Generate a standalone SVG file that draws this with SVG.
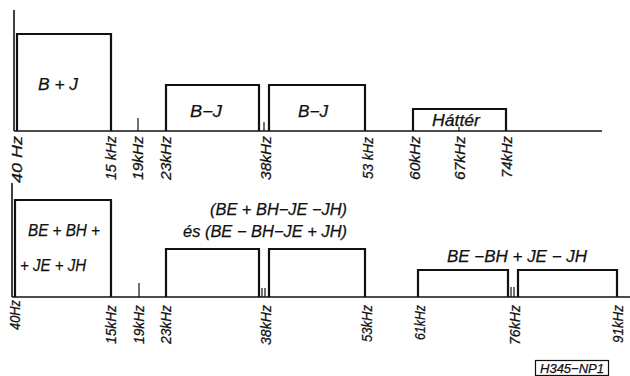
<svg xmlns="http://www.w3.org/2000/svg" width="630" height="376" viewBox="0 0 630 376">
<style>
.box{fill:none;stroke:#111;stroke-width:2.2}
.ax{stroke:#111;stroke-width:1.6;fill:none}
.tk{stroke:#111;stroke-width:1.2}
.t{font-family:"Liberation Sans",Arial,sans-serif;font-style:italic;font-size:16px;fill:#111;stroke:#111;stroke-width:0.25}
.f{font-family:"Liberation Sans",Arial,sans-serif;font-style:italic;font-size:15px;fill:#111;stroke:#111;stroke-width:0.25}
</style>
<rect width="630" height="376" fill="#fff"/>
<g id="connectors">
<line class="ax" x1="14" y1="10" x2="14" y2="131"/>
<line class="ax" x1="14" y1="131" x2="602" y2="131"/>
<line class="tk" x1="138" y1="118" x2="138" y2="131"/>
<line class="tk" x1="264" y1="122" x2="264" y2="131"/>
<line class="tk" x1="459" y1="127" x2="459" y2="131"/>
<line class="ax" x1="12" y1="183" x2="12" y2="297"/>
<line class="ax" x1="12" y1="297" x2="630" y2="297"/>
<line class="tk" x1="139" y1="283" x2="139" y2="297"/>
<line class="tk" x1="262" y1="288" x2="262" y2="297"/>
<line class="tk" x1="265" y1="288" x2="265" y2="297"/>
<line class="tk" x1="511" y1="287" x2="511" y2="297"/>
<line class="tk" x1="514" y1="287" x2="514" y2="297"/>
</g>
<g id="top-bj-sum"><path class="box" d="M17,131 V34 H111 V131"/><text class="t" x="38" y="90" textLength="40" lengthAdjust="spacingAndGlyphs">B + J</text></g>
<g id="top-bj-diff1"><path class="box" d="M166,131 V85 H259 V131"/><text class="t" x="190" y="117" textLength="32" lengthAdjust="spacingAndGlyphs">B−J</text></g>
<g id="top-bj-diff2"><path class="box" d="M269,131 V85 H365 V131"/><text class="t" x="298" y="117" textLength="30" lengthAdjust="spacingAndGlyphs">B−J</text></g>
<g id="top-hatter"><path class="box" d="M413,131 V109 H506 V131"/><text class="t" x="432" y="126" textLength="48" lengthAdjust="spacingAndGlyphs">Háttér</text></g>
<g id="top-labels" class="f" text-anchor="end">
<text transform="translate(22,136) rotate(-90)" textLength="47" lengthAdjust="spacingAndGlyphs">40 Hz</text>
<text transform="translate(116,136) rotate(-90)" textLength="44" lengthAdjust="spacingAndGlyphs">15 kHz</text>
<text transform="translate(143,136) rotate(-90)" textLength="44" lengthAdjust="spacingAndGlyphs">19kHz</text>
<text transform="translate(171,136) rotate(-90)" textLength="44" lengthAdjust="spacingAndGlyphs">23kHz</text>
<text transform="translate(271,136) rotate(-90)" textLength="44" lengthAdjust="spacingAndGlyphs">38kHz</text>
<text transform="translate(373,137) rotate(-90)" textLength="42" lengthAdjust="spacingAndGlyphs">53 kHz</text>
<text transform="translate(420,136) rotate(-90)" textLength="44" lengthAdjust="spacingAndGlyphs">60kHz</text>
<text transform="translate(465,136) rotate(-90)" textLength="44" lengthAdjust="spacingAndGlyphs">67kHz</text>
<text transform="translate(512,136) rotate(-90)" textLength="42" lengthAdjust="spacingAndGlyphs">74kHz</text>
</g>
<g id="bot-sum"><path class="box" d="M15,297 V200 H111 V297"/><text class="t" x="28" y="236" textLength="72" lengthAdjust="spacingAndGlyphs">BE + BH +</text><text class="t" x="20" y="271" textLength="66" lengthAdjust="spacingAndGlyphs">+ JE + JH</text></g>
<g id="bot-diff1"><path class="box" d="M166,297 V249 H259 V297"/></g>
<g id="bot-diff2"><path class="box" d="M269,297 V249 H365 V297"/></g>
<g id="bot-diff-label"><text class="t" x="210" y="215" textLength="137" lengthAdjust="spacingAndGlyphs">(BE + BH−JE −JH)</text><text class="t" x="183" y="237" textLength="164" lengthAdjust="spacingAndGlyphs">és  (BE − BH−JE + JH)</text></g>
<g id="bot-hi1"><path class="box" d="M418,297 V270 H508 V297"/></g>
<g id="bot-hi2"><path class="box" d="M518,297 V270 H617 V297"/></g>
<g id="bot-hi-label"><text class="t" x="447" y="262" textLength="140" lengthAdjust="spacingAndGlyphs">BE −BH + JE − JH</text></g>
<g id="bot-labels" class="f" text-anchor="end">
<text transform="translate(20,300) rotate(-90)" textLength="30" lengthAdjust="spacingAndGlyphs">40Hz</text>
<text transform="translate(116,305) rotate(-90)" textLength="39" lengthAdjust="spacingAndGlyphs">15kHz</text>
<text transform="translate(144,305) rotate(-90)" textLength="39" lengthAdjust="spacingAndGlyphs">19kHz</text>
<text transform="translate(171,305) rotate(-90)" textLength="39" lengthAdjust="spacingAndGlyphs">23kHz</text>
<text transform="translate(271,305) rotate(-90)" textLength="40" lengthAdjust="spacingAndGlyphs">38kHz</text>
<text transform="translate(372,305) rotate(-90)" textLength="37" lengthAdjust="spacingAndGlyphs">53kHz</text>
<text transform="translate(425,305) rotate(-90)" textLength="35" lengthAdjust="spacingAndGlyphs">61kHz</text>
<text transform="translate(520,305) rotate(-90)" textLength="40" lengthAdjust="spacingAndGlyphs">76kHz</text>
<text transform="translate(623,305) rotate(-90)" textLength="38" lengthAdjust="spacingAndGlyphs">91kHz</text>
</g>
<g id="code"><rect x="535.5" y="360.5" width="73" height="15" fill="none" stroke="#111" stroke-width="1.2"/><text class="f" x="540" y="373" textLength="64" lengthAdjust="spacingAndGlyphs" style="font-size:13px">H345−NP1</text></g>
</svg>
